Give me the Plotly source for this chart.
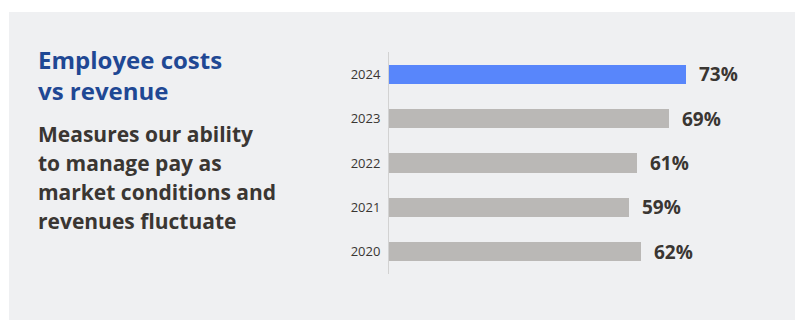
import plotly.graph_objects as go

# Employee costs as a share of revenue, by year (top to bottom)
years = ["2024", "2023", "2022", "2021", "2020"]
cost_share = [73, 69, 61, 59, 62]
value_labels = ["73%", "69%", "61%", "59%", "62%"]
highlight_year = "2024"

title_lines = ["Employee costs", "vs revenue"]
subtitle_lines = [
    "Measures our ability",
    "to manage pay as",
    "market conditions and",
    "revenues fluctuate",
]

W, H = 795, 320
M_L, M_R, M_T, M_B = 389, 40, 52, 46
PLOT_W = W - M_L - M_R
PLOT_H = H - M_T - M_B

BLUE = "#5886fb"
GREY = "#bab8b6"
PANEL = "#eff0f2"
TITLE_BLUE = "#1f4894"
DARK = "#3a3632"
FONT = "Open Sans"


def px_x(x):
    return (x - M_L) / PLOT_W


def px_y(y):
    return (H - M_B - y) / PLOT_H


bar_colors = [BLUE if y == highlight_year else GREY for y in years]

fig = go.Figure(
    go.Bar(
        x=cost_share,
        y=years,
        orientation="h",
        marker=dict(color=bar_colors, line=dict(width=0)),
        width=0.43,
        hoverinfo="skip",
    )
)

annotations = []
# value labels at the end of each bar (y given as category index,
# since the year strings would otherwise be read as numeric positions)
for idx, (v, lab) in enumerate(zip(cost_share, value_labels)):
    annotations.append(
        dict(
            x=v, y=idx, xref="x", yref="y", text=lab, showarrow=False,
            xanchor="left", yanchor="middle", xshift=11, yshift=0,
            font=dict(family=FONT, size=19, color=DARK, weight=700),
        )
    )

# heading
for i, line in enumerate(title_lines):
    annotations.append(
        dict(
            x=px_x(36), y=px_y(59 + 31 * i), xref="paper", yref="paper",
            text=line, showarrow=False, xanchor="left", yanchor="middle",
            font=dict(family=FONT, size=24, color=TITLE_BLUE, weight=700),
        )
    )

# description
for i, line in enumerate(subtitle_lines):
    annotations.append(
        dict(
            x=px_x(36), y=px_y(134 + 29 * i), xref="paper", yref="paper",
            text=line, showarrow=False, xanchor="left", yanchor="middle",
            font=dict(family=FONT, size=21, color=DARK, weight=700),
        )
    )

fig.update_layout(
    width=W, height=H,
    margin=dict(l=M_L, r=M_R, t=M_T, b=M_B, pad=0),
    paper_bgcolor="white",
    plot_bgcolor="rgba(0,0,0,0)",
    showlegend=False,
    bargap=0,
    annotations=annotations,
    shapes=[
        dict(
            type="rect", xref="paper", yref="paper",
            x0=px_x(9), x1=px_x(W + 5), y0=px_y(H + 5), y1=px_y(12),
            fillcolor=PANEL, line=dict(width=0), layer="below",
        )
    ],
    xaxis=dict(
        range=[0, PLOT_W / 4.062], fixedrange=True,
        showticklabels=False, showgrid=False, zeroline=False,
        showline=False, ticks="",
    ),
    yaxis=dict(
        type="category",
        categoryorder="array",
        categoryarray=years,
        range=[len(years) - 0.5, -0.5],
        showline=True, linecolor="#d2d2d2", linewidth=1,
        showgrid=False, zeroline=False,
        ticks="", ticklabelstandoff=5,
        tickfont=dict(family=FONT, size=13, color=DARK),
        fixedrange=True,
    ),
)

fig.write_html("out.html", config={"displayModeBar": False})
